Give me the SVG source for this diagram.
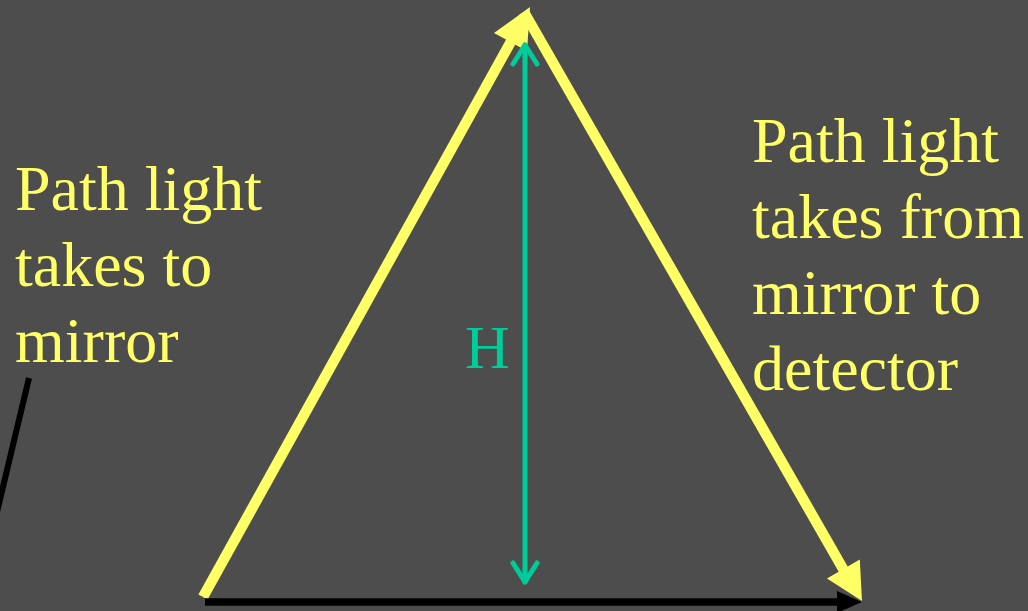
<svg xmlns="http://www.w3.org/2000/svg" width="1028" height="611" viewBox="0 0 1028 611">
<style>
.lbl{font-family:"Liberation Serif","Times New Roman",serif;font-size:64px;fill:#ffff66}
.h{font-family:"Liberation Serif","Times New Roman",serif;font-size:62px;fill:#00cc99}
.ray{stroke:#ffff66;stroke-width:10.5;fill:none}
.ray-head{fill:#ffff66}
.dim{stroke:#00cc99;stroke-width:5;fill:none;stroke-linecap:round;stroke-linejoin:round}
</style>
<rect width="1028" height="611" fill="#4d4d4d"/>
<g id="connectors">
  <line x1="29" y1="378" x2="-3" y2="512" stroke="#000" stroke-width="6"/>
  <line class="ray" x1="203" y1="597" x2="514" y2="36"/>
  <polygon class="ray-head" points="530,7 527,51 494,33"/>
  <line class="ray" x1="524" y1="12" x2="846" y2="574"/>
  <polygon class="ray-head" points="862,601 827,578.5 859.8,559.5"/>
  <line x1="205" y1="602" x2="840" y2="602" stroke="#000" stroke-width="7.5"/>
  <polygon points="862,602 837,591 837,613" fill="#000"/>
  <line class="dim" x1="525" y1="45" x2="525" y2="582"/>
  <polyline class="dim" points="513,64 525,45 537,64"/>
  <polyline class="dim" points="513,563 525,582 537,563"/>
</g>
<g id="label-left">
  <text class="lbl" x="15" y="210">Path light</text>
  <text class="lbl" x="15" y="286">takes to</text>
  <text class="lbl" x="15" y="362">mirror</text>
</g>
<g id="label-right">
  <text class="lbl" x="752" y="162">Path light</text>
  <text class="lbl" x="752" y="238">takes from</text>
  <text class="lbl" x="752" y="314">mirror to</text>
  <text class="lbl" x="752" y="390">detector</text>
</g>
<g id="label-h">
  <text class="h" x="465" y="368">H</text>
</g>
</svg>
